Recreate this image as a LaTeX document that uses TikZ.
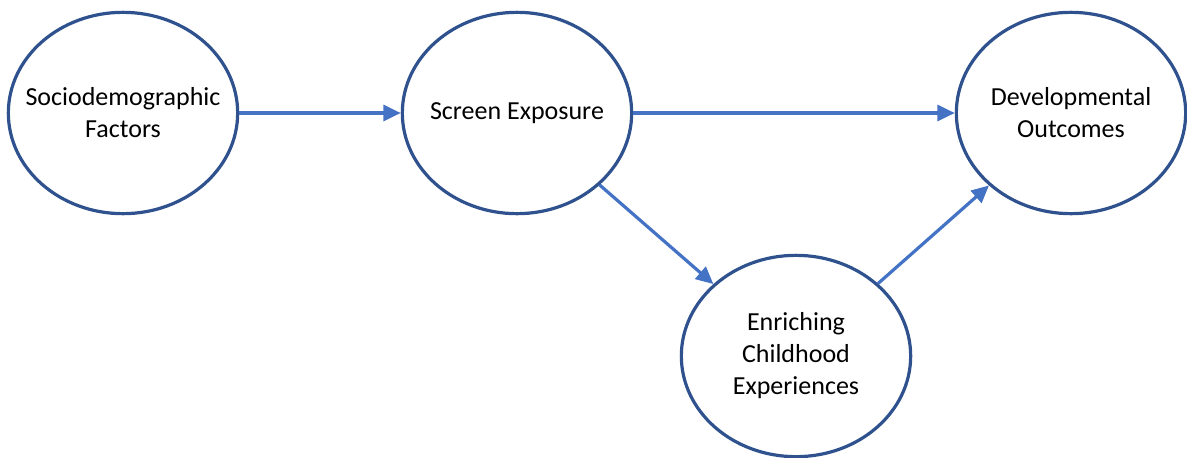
\documentclass[tikz,border=0pt]{standalone}
\usepackage{fontspec}
\setmainfont{Carlito}
\usetikzlibrary{shapes.geometric,arrows.meta}

\definecolor{ringblue}{HTML}{2F528F}
\definecolor{arrowblue}{HTML}{4472C4}

\begin{document}
\begin{tikzpicture}[x=0.75pt, y=-0.75pt,
    factor/.style={ellipse, draw=ringblue, line width=2.4pt, fill=white,
        minimum width=172pt, minimum height=151pt,
        inner xsep=-15pt, inner ysep=0pt,
        align=center, font=\fontsize{19.5}{24}\selectfont},
    link/.style={draw=arrowblue, line width=2.4pt,
        -{Triangle[length=13pt,width=12pt]}}]
\useasboundingbox (0,0) rectangle (1187,457);

% the four factors
\node (socio)  [factor] at (123,113)  {Sociodemographic\\Factors};
\node (screen) [factor] at (517,113)  {Screen Exposure};
\node (devel)  [factor] at (1071,113) {Developmental\\Outcomes};
\node (enrich) [factor] at (796,356)  {Enriching\\Childhood\\Experiences};

% the paths between them
\draw[link] (socio) -- (screen);
\draw[link] (screen) -- (devel);
\draw[link] (screen) -- (enrich);
\draw[link] (enrich) -- (devel);

\end{tikzpicture}
\end{document}
